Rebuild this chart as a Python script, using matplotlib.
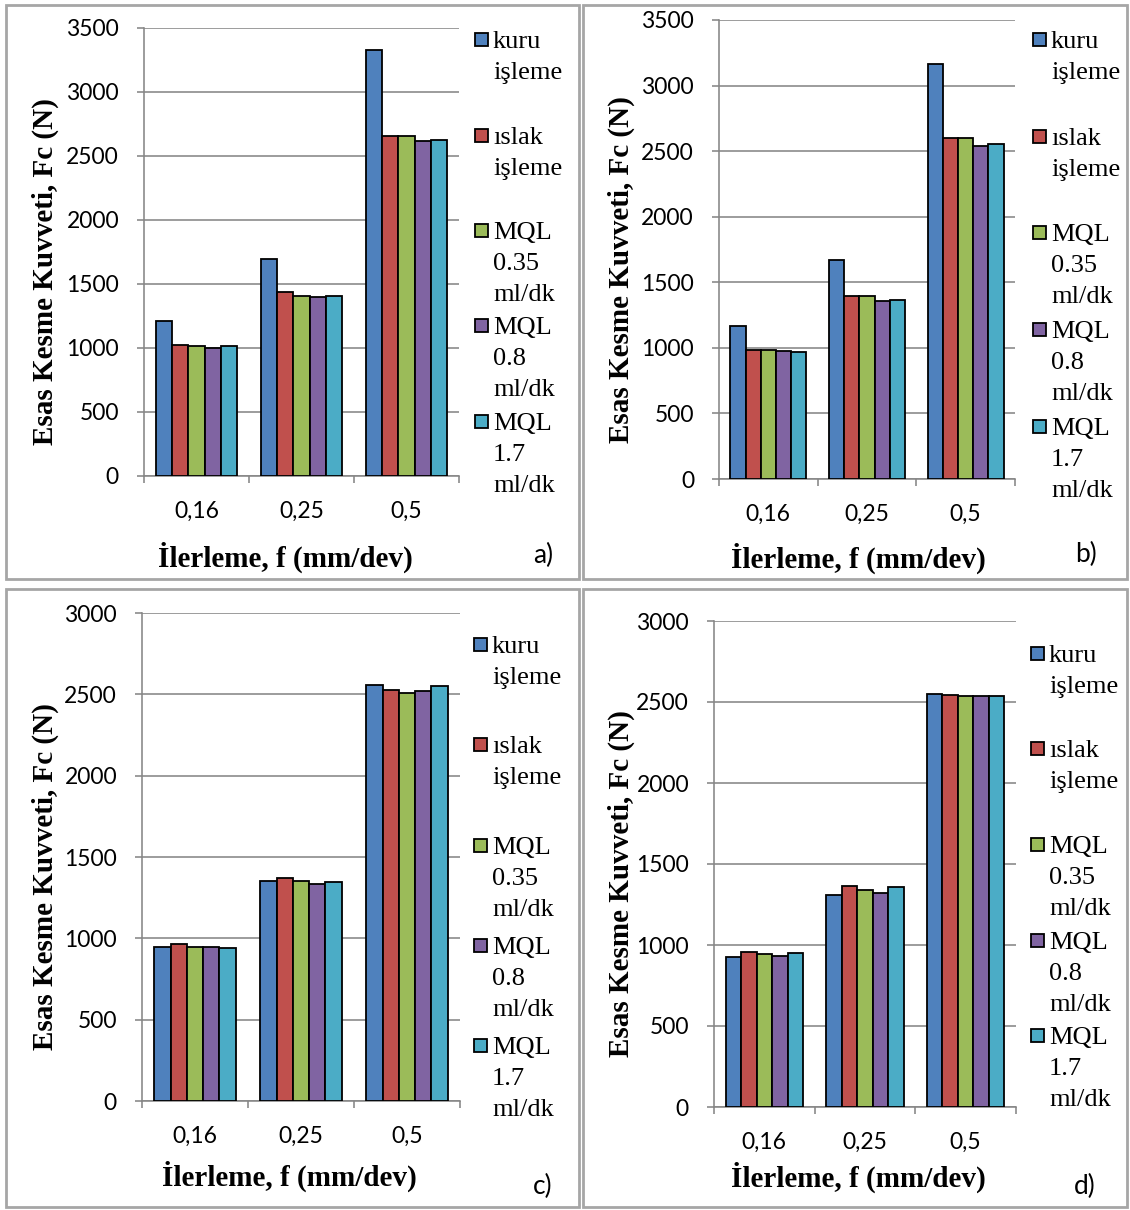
import matplotlib
matplotlib.use("Agg")
import matplotlib.pyplot as plt
from matplotlib.patches import Rectangle
import numpy as np

# Feed rates on the x axis
feeds = ["0,16", "0,25", "0,5"]

# Cooling / lubrication conditions (legend entries, one list per text line)
conditions = [
    ["kuru", "işleme"],
    ["ıslak", "işleme"],
    ["MQL", "0.35", "ml/dk"],
    ["MQL", "0.8", "ml/dk"],
    ["MQL", "1.7", "ml/dk"],
]
colors = ["#4F81BD", "#C0504D", "#9BBB59", "#8064A2", "#4BACC6"]

# Main cutting force Fc (N); rows follow the conditions, columns the feeds
fc_a = np.array([
    [1208, 1698, 3331],
    [1022, 1437, 2655],
    [1012, 1403, 2655],
    [1002, 1395, 2616],
    [1012, 1403, 2624],
])
fc_b = np.array([
    [1170, 1669, 3167],
    [984, 1397, 2597],
    [984, 1397, 2597],
    [974, 1358, 2541],
    [972, 1366, 2554],
])
fc_c = np.array([
    [949, 1353, 2557],
    [964, 1372, 2528],
    [947, 1351, 2508],
    [945, 1337, 2522],
    [941, 1345, 2549],
])
fc_d = np.array([
    [929, 1308, 2550],
    [954, 1365, 2544],
    [942, 1337, 2540],
    [931, 1322, 2537],
    [952, 1355, 2540],
])

W, H = 1130, 1210
fig = plt.figure(figsize=(W / 100, H / 100), dpi=100)

SANS = "Lato"
SERIF = "Liberation Serif"
GRID = "#868686"
PX = 0.72  # points per pixel at 100 dpi


def fx(x):
    return x / W


def fy(y):
    return 1 - y / H


panels = [
    dict(data=fc_a, ymax=3500, box=(6, 5, 579, 579), ax=(144, 28, 459, 476),
         leg_x=475, leg_top=[40, 136, 231, 326, 422], ylab_x=45, xlab=(285, 557),
         tag="a)", tag_xy=(543, 555)),
    dict(data=fc_b, ymax=3500, box=(583, 5, 1127, 579), ax=(719, 20, 1015, 479),
         leg_x=1033, leg_top=[40, 137, 233, 330, 427], ylab_x=621, xlab=(858, 558),
         tag="b)", tag_xy=(1086, 554)),
    dict(data=fc_c, ymax=3000, box=(6, 589, 579, 1207), ax=(142, 613, 460, 1101),
         leg_x=474, leg_top=[645, 745, 846, 946, 1046], ylab_x=45, xlab=(289, 1176),
         tag="c)", tag_xy=(543, 1186)),
    dict(data=fc_d, ymax=3000, box=(583, 589, 1127, 1207), ax=(714, 621, 1016, 1107),
         leg_x=1031, leg_top=[654, 749, 845, 941, 1036], ylab_x=621, xlab=(858, 1177),
         tag="d)", tag_xy=(1085, 1186)),
]

n_series = len(conditions)
bar_w = 1 / (n_series + 1.5)
x = np.arange(len(feeds))
line_gap = 31

for p in panels:
    # frame around each sub-figure
    bx0, by0, bx1, by1 = p["box"]
    fig.patches.append(Rectangle((fx(bx0), fy(by1)), fx(bx1 - bx0), (by1 - by0) / H,
                                 transform=fig.transFigure, fill=False,
                                 edgecolor="#a6a6a6", linewidth=2.0, zorder=0))

    l, t, r, b = p["ax"]
    ax = fig.add_axes([fx(l), fy(b), fx(r - l), (b - t) / H])
    for i in range(n_series):
        offs = (i - (n_series - 1) / 2) * bar_w
        ax.bar(x + offs, p["data"][i], width=bar_w, color=colors[i],
               edgecolor="black", linewidth=1.3, zorder=3)

    ax.set_xlim(-0.5, len(feeds) - 0.5)
    ax.set_ylim(0, p["ymax"])
    ax.set_yticks(np.arange(0, p["ymax"] + 1, 500))
    ax.yaxis.grid(True, color=GRID, linewidth=1.6 * PX, zorder=0)
    ax.set_axisbelow(True)

    # category boundaries carry the tick marks, category centres carry the labels
    ax.set_xticks(np.arange(-0.5, len(feeds)), labels=[""] * (len(feeds) + 1))
    ax.set_xticks(x, labels=feeds, minor=True)
    ax.tick_params(axis="x", which="major", direction="out", length=7 * PX,
                   width=1.6 * PX, color=GRID)
    ax.tick_params(axis="x", which="minor", length=0, pad=25 * PX, labelsize=16.5)
    ax.tick_params(axis="y", direction="out", length=7 * PX, width=1.6 * PX,
                   color=GRID, pad=18 * PX, labelsize=16.5)
    for lab in ax.get_xticklabels(minor=True) + ax.get_yticklabels():
        lab.set_fontfamily(SANS)

    for s in ("top", "right"):
        ax.spines[s].set_visible(False)
    for s in ("left", "bottom"):
        ax.spines[s].set_color(GRID)
        ax.spines[s].set_linewidth(1.6 * PX)

    # axis titles
    fig.text(fx(p["ylab_x"]), fy((t + b) / 2 + 20), "Esas Kesme Kuvveti, Fc (N)",
             rotation=90, ha="center", va="center", family=SERIF,
             weight="bold", fontsize=21)
    fig.text(fx(p["xlab"][0]), fy(p["xlab"][1]), "İlerleme, f (mm/dev)",
             ha="center", va="center", family=SERIF, weight="bold", fontsize=21)
    fig.text(fx(p["tag_xy"][0]), fy(p["tag_xy"][1]), p["tag"], ha="center",
             va="center", family=SANS, fontsize=19)

    # legend: square key followed by stacked lines of text
    for i, lines in enumerate(conditions):
        y0 = p["leg_top"][i]
        fig.patches.append(Rectangle((fx(p["leg_x"]), fy(y0 + 6)), 13 / W, 13 / H,
                                     transform=fig.transFigure, facecolor=colors[i],
                                     edgecolor="black", linewidth=1.3))
        for k, txt in enumerate(lines):
            fig.text(fx(p["leg_x"] + 18), fy(y0 + k * line_gap + 8), txt,
                     ha="left", va="baseline", family=SERIF, fontsize=19)

fig.savefig("out.png", dpi=100)
